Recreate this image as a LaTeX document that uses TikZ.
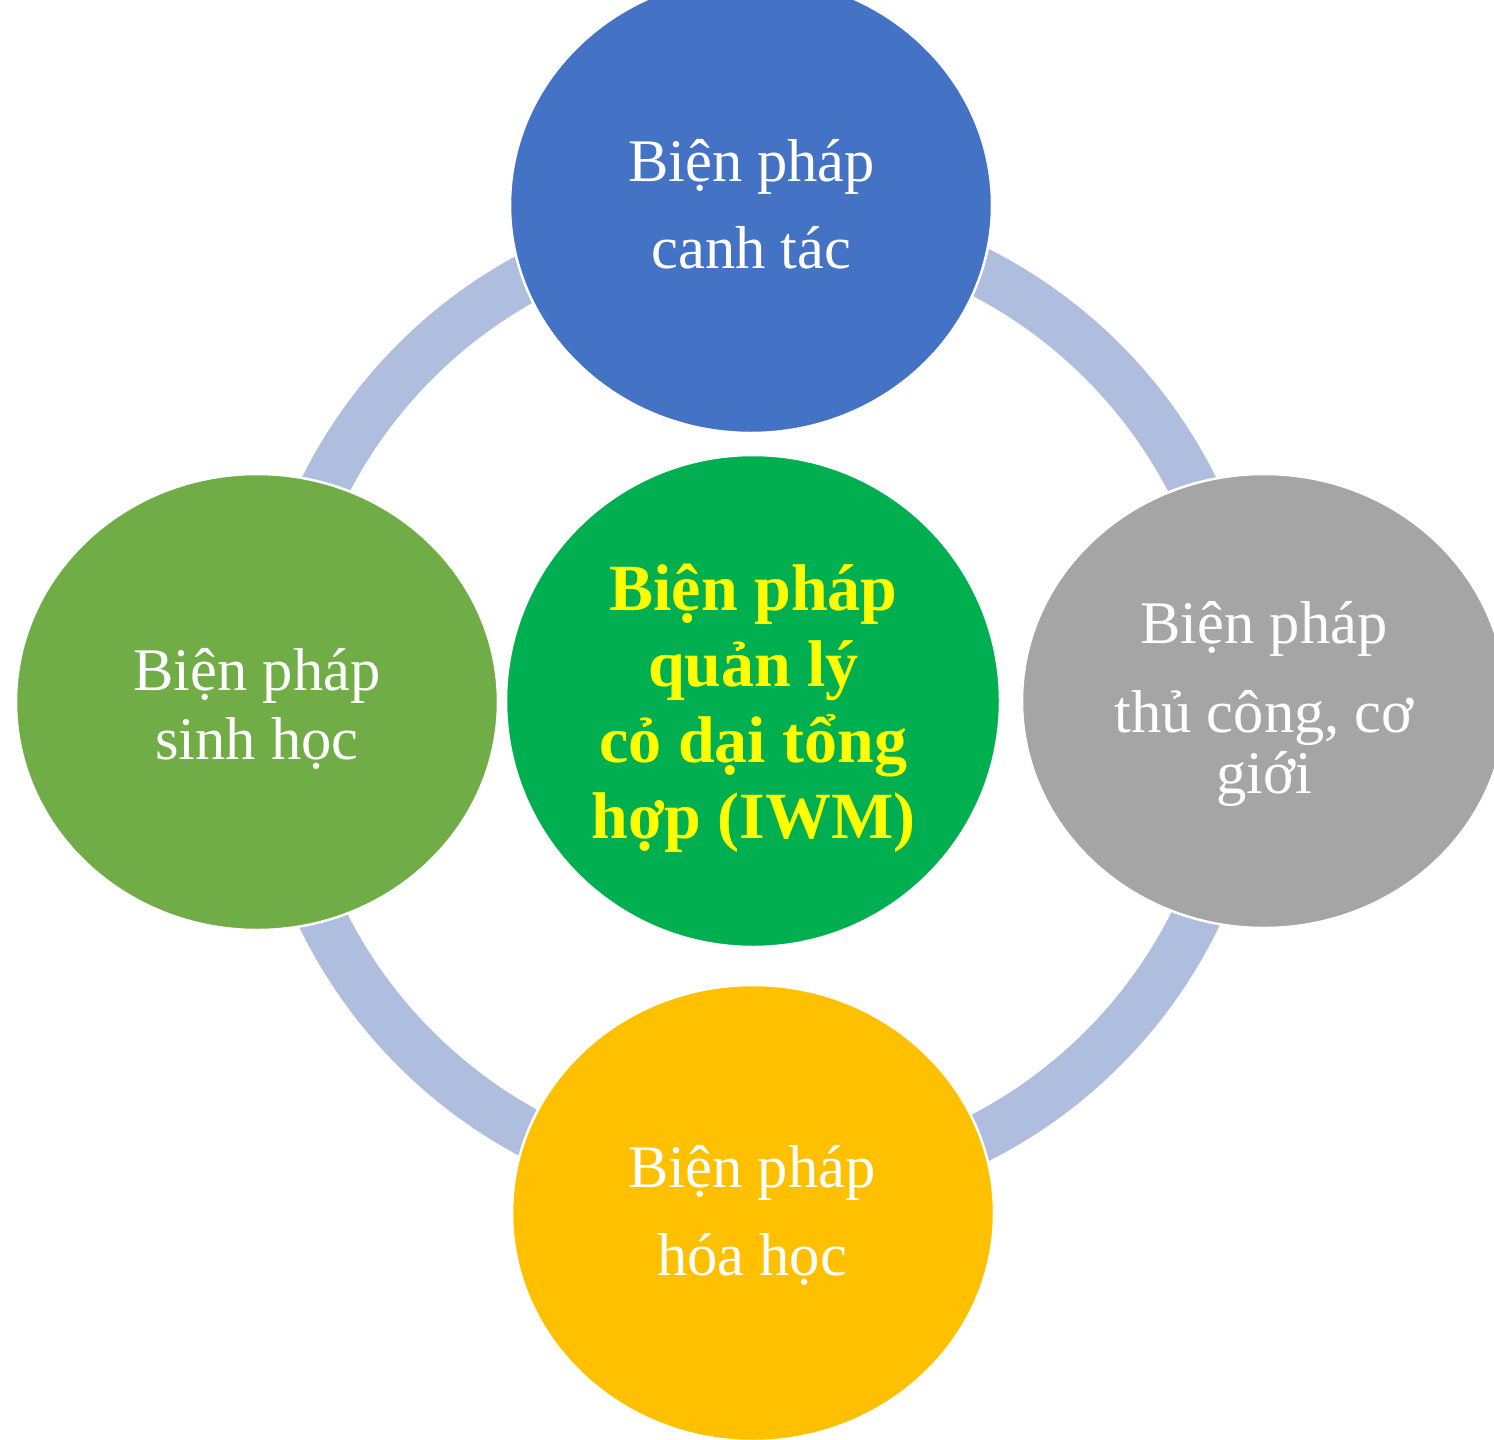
\documentclass[tikz,border=0pt]{standalone}
\usepackage{fontspec}
\setmainfont{Liberation Serif}
\usetikzlibrary{shapes.geometric}
\definecolor{ringc}{RGB}{175,189,222}
\definecolor{topc}{RGB}{68,114,196}
\definecolor{midc}{RGB}{0,176,80}
\definecolor{rightc}{RGB}{165,165,165}
\definecolor{leftc}{RGB}{112,173,71}
\definecolor{botc}{RGB}{255,192,0}
\definecolor{ylw}{RGB}{255,255,0}
\tikzset{
  blob/.style={ellipse, draw=white, line width=2.5pt, inner sep=0pt},
  outer/.style={blob, minimum width=482pt, minimum height=456pt},
  wtext/.style={anchor=base, text=white, inner sep=0pt, font=\fontsize{60.5}{70}\selectfont},
  ytext/.style={anchor=base, text=ylw, inner sep=0pt, font=\fontsize{66}{76}\selectfont\bfseries},
  ringline/.style={draw=ringc, line width=49pt}
}
\begin{document}
\begin{tikzpicture}[x=1pt,y=-1pt]
\useasboundingbox (0,0) rectangle (1494,1440);
\clip (0,0) rectangle (1494,1440);
\draw[ringline] (759,705) circle[radius=486pt];
% nodes
\node[outer, fill=topc] (top) at (751,205) {};
\node[outer, fill=rightc, minimum width=484pt, minimum height=454pt] (right) at (1264,701) {};
\node[outer, fill=leftc] (left) at (257,702) {};
\node[outer, fill=botc] (bot) at (753,1213) {};
\node[blob, fill=midc, minimum width=494pt, minimum height=492pt] (mid) at (753,701) {};
% texts
\node[wtext] (top1) at (751.5,181) {Biện pháp};
\node[wtext] (top2) at (751.5,268) {canh tác};
\node[wtext] (right1) at (1264,643) {Biện pháp};
\node[wtext] (right2) at (1264,732) {thủ công, cơ};
\node[wtext] (right3) at (1264,793) {giới};
\node[wtext] (left1) at (257,690) {Biện pháp};
\node[wtext] (left2) at (257,759) {sinh học};
\node[wtext] (bot1) at (752,1187) {Biện pháp};
\node[wtext] (bot2) at (752,1275) {hóa học};
\node[ytext] (mid1) at (753.5,610) {Biện pháp};
\node[ytext] (mid2) at (753.5,686.5) {quản lý};
\node[ytext] (mid3) at (753.5,762.5) {cỏ dại tổng};
\node[ytext] (mid4) at (753.5,838) {hợp (IWM)};
\end{tikzpicture}
\end{document}
